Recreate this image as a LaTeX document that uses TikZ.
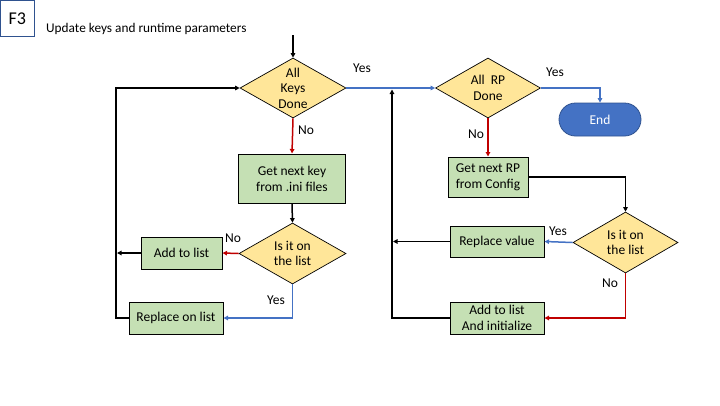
\documentclass[tikz,border=0pt]{standalone}
\usepackage{fontspec}
\setmainfont{Carlito}
\usetikzlibrary{shapes.geometric,arrows.meta}
\definecolor{boxgreen}{HTML}{C5E0B4}
\definecolor{dyellow}{HTML}{FFE699}
\definecolor{eblue}{HTML}{4472C4}
\definecolor{edge}{HTML}{2F528F}
\definecolor{ared}{HTML}{C00000}
\begin{document}
\begin{tikzpicture}[x=1pt,y=-1pt,
  proc/.style={draw=black, fill=boxgreen, line width=1pt, inner sep=0pt, align=center, font=\fontsize{13.5}{16}\selectfont},
  dec/.style={diamond, draw=black, fill=dyellow, line width=0.7pt, inner sep=0pt},
  dtxt/.style={align=center, inner sep=0pt, font=\fontsize{13.5}{15.5}\selectfont},
  lbl/.style={font=\fontsize{13.5}{15}\selectfont, inner sep=0pt},
  arr/.style={-{Triangle[length=4.5pt,width=4.5pt]}, line width=1.5pt},
  ln/.style={line width=1.5pt},
]
\useasboundingbox (0,0) rectangle (720,405);
% header
\node[draw=edge, line width=0.8pt, minimum width=34pt, minimum height=36pt, inner sep=0pt, anchor=north west, font=\fontsize{18}{20}\selectfont] (f3) at (0,0) {F3};
\node[anchor=west, inner sep=0pt, font=\fontsize{13.3}{15}\selectfont] (title) at (46,29) {Update keys and runtime parameters};
% left part
\node[dec, minimum width=106pt, minimum height=60pt] (d1) at (293,88) {};
\node[dtxt] (d1t) at (293,88) {All\\Keys\\Done};
\node[proc, minimum width=107pt, minimum height=49pt] (b1) at (292,178.5) {Get next key\\from .ini files};
\node[dec, minimum width=107pt, minimum height=61pt] (d3) at (292.5,253.5) {};
\node[dtxt] (d3t) at (292.5,253.5) {Is it on\\the list};
\node[proc, minimum width=81pt, minimum height=32pt] (add1) at (181.5,253) {Add to list};
\node[proc, minimum width=94pt, minimum height=32pt] (rep1) at (176,318) {Replace on list};
% right part
\node[dec, minimum width=105pt, minimum height=60pt] (d2) at (488,88) {};
\node[dtxt] (d2t) at (488,88) {All~~RP\\Done};
\node[draw=edge, fill=eblue, line width=0.8pt, minimum width=82pt, minimum height=33pt, rounded corners=16.5pt, text=white, font=\fontsize{13.5}{15}\selectfont, inner sep=0pt] (end) at (600,119.5) {End};
\node[proc, minimum width=80pt, minimum height=40pt] (rp) at (488,177) {Get next RP\\from Config};
\node[dec, minimum width=105pt, minimum height=61pt] (d4) at (625.5,242.5) {};
\node[dtxt] (d4t) at (625.5,242.5) {Is it on\\the list};
\node[proc, minimum width=94pt, minimum height=31pt] (repv) at (497,241.5) {Replace value};
\node[proc, minimum width=94pt, minimum height=32pt] (addi) at (497,318) {Add to list\\And initialize};
% coordinates
\coordinate (start) at (293,35);
\coordinate (cl) at (116,88);
\coordinate (cr) at (392,89.5);
% connectors left
\draw[arr] (start) -- (d1.north);
\draw[arr, ared] (d1.south) -- (b1.north);
\node[lbl, anchor=west] (no1) at (298,130) {No};
\draw[arr] (b1.south) -- (d3.north);
\draw[arr, ared] (d3.west) -- (add1.east);
\node[lbl] (no2) at (233,238) {No};
\draw[arr] (add1.west) -- ([xshift=1pt]cl |- add1.west);
\draw[arr, eblue] (d3.south) |- (rep1.east);
\node[lbl] (yes3) at (276,300) {Yes};
\draw[arr] (rep1.west) -| (cl) -- (d1.west);
% connectors middle and right
\draw[arr, eblue] (d1.east) -- (d2.west);
\node[lbl] (yes1) at (362,68) {Yes};
\draw[arr, eblue] (d2.east) -| (end.north);
\node[lbl] (yes2) at (555,72) {Yes};
\draw[arr, ared] (d2.south) -- (rp.north);
\node[lbl] (no3) at (476,134) {No};
\draw[arr] (rp.east) -| (d4.north);
\draw[arr, eblue] (d4.west) -- (repv.east);
\node[lbl] (yes4) at (558,231) {Yes};
\draw[arr] (repv.west) -- ([xshift=1pt]cr |- repv.west);
\draw[arr, ared] (d4.south) |- (addi.east);
\node[lbl] (no4) at (610,283) {No};
\draw[arr] (addi.west) -| (cr);
\end{tikzpicture}
\end{document}
